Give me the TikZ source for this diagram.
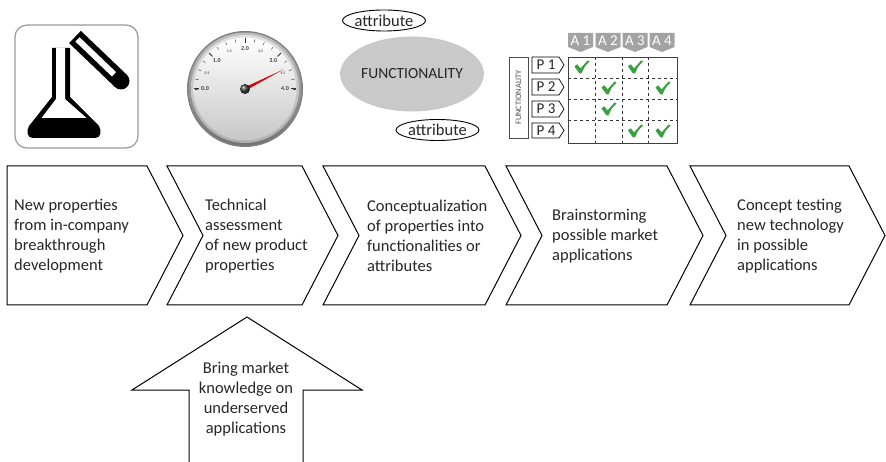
\documentclass[tikz,border=0pt]{standalone}
\usepackage{fontspec}
\setmainfont{Carlito}
\usetikzlibrary{shapes.geometric}
\definecolor{txt}{HTML}{262626}
\definecolor{okgreen}{HTML}{3E9E42}
\definecolor{tabgray}{HTML}{A3A3A3}

\tikzset{
  stage/.style={draw=black, line width=1pt, fill=white, line join=miter},
  stagetext/.style={anchor=west, align=left, inner sep=0pt,
    font=\fontsize{16.5}{20}\selectfont, text=txt},
  attr/.style={draw=black, ellipse, line width=0.9pt, inner sep=0pt,
    minimum width=76pt, minimum height=21pt, text=txt,
    font=\fontsize{16.5}{18}\selectfont},
  coltab/.style={fill=tabgray},
  coltext/.style={text=white, inner sep=0pt, font=\fontsize{15}{15}\selectfont},
  rowtab/.style={draw=black, line width=0.7pt, fill=white},
  rowtext/.style={text=txt, inner sep=0pt, font=\fontsize{15}{15}\selectfont},
  checkmark/.pic={
    \fill[okgreen] (-7,-1) .. controls (-5,-3) .. (-4,-3) -- (-1,1)
      .. controls (2,-3) .. (6,-7) -- (8,-6) .. controls (3,-1) .. (0,6)
      -- (-2,6) -- cycle;
  }
}

\begin{document}
\begin{tikzpicture}[x=1pt, y=-1pt]
  \fill[white] (0,0) rectangle (886,462);
  \path[use as bounding box] (0,0) rectangle (886,462);

  % ---- laboratory icon ----
  \draw[draw=black!40, line width=1.2pt, fill=white, rounded corners=12pt]
    (15,25) rectangle (138,148);
  \fill[black] (52,48) -- (52,97) -- (29,126) .. controls (26,131) and (27,138) .. (33,138)
    -- (95,138) .. controls (101,138) and (102,131) .. (99,126) -- (70,97) -- (70,48) -- cycle;
  \fill[white] (56,48) -- (56,99) -- (41.5,118) -- (86.5,118) -- (65,99) -- (65,48) -- cycle;
  \draw[black, line width=17pt] (75,37) -- (121,81);
  \fill[black] (121,81) circle (8.5);
  \draw[white, line width=6pt] (77.5,39.4) -- (114,74.3);

  % ---- gauge ----
  \begin{scope}[shift={(245,89)}, yscale=-1]
    \fill[black!50] (0,0) circle (58);
    \shade[top color=black!25, bottom color=black!55] (0,0) circle (56.5);
    \shade[top color=black!12, bottom color=black!32] (0,0) circle (54);
    \shade[top color=white, bottom color=black!22] (0,0) circle (51.5);
    \foreach \a in {0,11.25,...,180}
      \draw[black!70, line width=0.5pt] (\a:47.5) -- (\a:50.5);
    \foreach \a in {0,45,...,180}
      \draw[black!80, line width=1pt] (\a:46) -- (\a:51);
    \foreach \a/\v in {180/0.0,135/1.0,90/2.0,45/3.0,0/4.0}
      \node[font=\bfseries\fontsize{6}{7}\selectfont, text=black!75, inner sep=0pt] at (\a:40) {\v};
    \foreach \a/\v in {157.5/0.5,112.5/1.5,67.5/2.5,22.5/3.5}
      \node[font=\bfseries\fontsize{3.8}{4}\selectfont, text=black!65, inner sep=0pt] at (\a:41) {\v};
    \fill[red!85!black] (27:43) -- (117:1.6) -- (-63:1.6) -- cycle;
    \shade[ball color=black!75] (0,0) circle (5);
  \end{scope}

  % ---- functionality with attributes ----
  \node[ellipse, fill=black!21, minimum width=132pt, minimum height=75pt, inner sep=0pt,
    text=txt, font=\fontsize{15.5}{18}\selectfont] (func) at (412,74) {FUNCTIONALITY};
  \node[attr] (attrA) at (384,20.5) {attribute};
  \node[attr] (attrB) at (437.5,130) {attribute};

  % ---- functionality / application matrix ----
  \draw[black!70, line width=0.7pt] (509,57) rectangle (528,138);
  \node[rotate=90, text=black!70, inner sep=0pt, font=\fontsize{8.3}{9}\selectfont]
    (fnlabel) at (518.5,97.5) {FUNCTIONALITY};
  \foreach \i/\l in {1/568,2/595.5,3/622.5,4/649.5}{
    \fill[coltab] (\l,33) -- (\l+25,33) -- (\l+25,47) -- (\l+12.5,52) -- (\l,47) -- cycle;
    \node[coltext] (colA\i) at (\l+12.5,41) {A \i};
  }
  \foreach \i/\t/\b in {1/57/73,2/79/95,3/101/117,4/123/138}{
    \draw[rowtab] (532,\t) -- (559,\t) -- (564,{(\t+\b)/2}) -- (559,\b) -- (532,\b) -- cycle;
    \node[rowtext] (rowP\i) at (546,{(\t+\b)/2}) {P \i};
  }
  \draw[black!80, dashed, line width=0.6pt] (595,57) -- (595,143) (622,57) -- (622,143) (648,57) -- (648,143);
  \draw[black!80, dashed, line width=0.6pt] (568,78) -- (677,78) (568,99) -- (677,99) (568,120) -- (677,120);
  \draw[black!75, line width=0.8pt] (568,57) rectangle (677,143);
  \foreach \x/\y in {581.5/67.5, 635/67.5, 608.5/88.5, 662.5/88.5, 608.5/109.5, 635/131.5, 662.5/131.5}
    \pic at (\x,\y) {checkmark};

  % ---- process stages ----
  \draw[stage] (7,166) -- (147,166) -- (183,235.5) -- (147,305) -- (7,305) -- cycle;
  \draw[stage] (167,166) -- (302,166) -- (338,235.5) -- (302,305) -- (167,305) -- (203,235.5) -- cycle;
  \draw[stage] (323,166) -- (485,166) -- (521,235.5) -- (485,305) -- (323,305) -- (359,235.5) -- cycle;
  \draw[stage] (506,166) -- (667,166) -- (703,235.5) -- (667,305) -- (506,305) -- (542,235.5) -- cycle;
  \draw[stage] (690,166) -- (849,166) -- (885,235.5) -- (849,305) -- (690,305) -- (726,235.5) -- cycle;

  \node[stagetext] (s1) at (14,236) {New properties\\from in-company\\breakthrough\\development};
  \node[stagetext] (s2) at (205,236) {Technical\\assessment\\of new product\\properties};
  \node[stagetext] (s3) at (367,236) {Conceptualization\\of properties into\\functionalities or\\attributes};
  \node[stagetext] (s4) at (552,236) {Brainstorming\\possible market\\applications};
  \node[stagetext] (s5) at (737,236) {Concept testing\\new technology\\in possible\\applications};

  % ---- market input arrow ----
  \draw[black, line width=1pt, fill=white, line join=miter]
    (189,463) -- (189,390) -- (132,390) -- (247,317) -- (362,390) -- (303,390) -- (303,463);
  \node[align=center, inner sep=0pt, text=txt, font=\fontsize{16.5}{20}\selectfont]
    (market) at (246,399) {Bring market\\knowledge on\\underserved\\applications};
\end{tikzpicture}
\end{document}
